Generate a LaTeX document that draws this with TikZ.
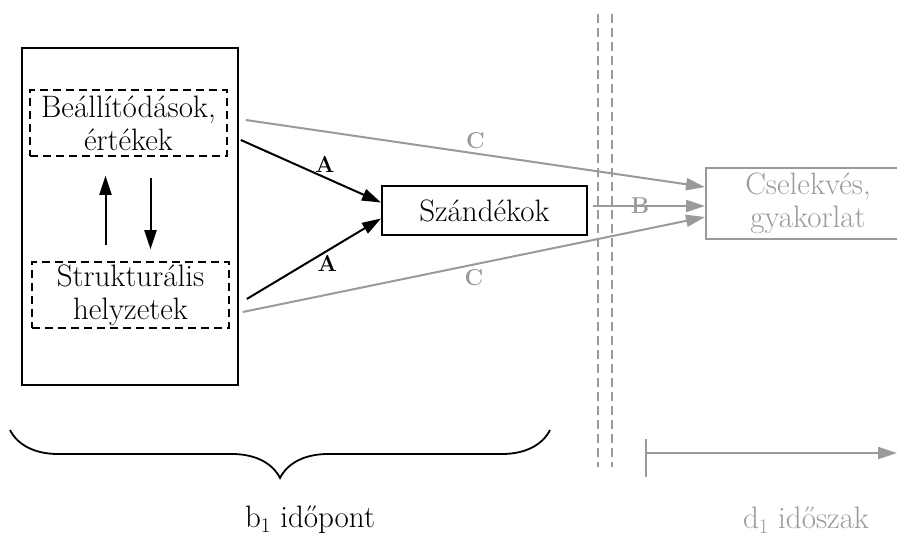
\documentclass[tikz,border=0pt]{standalone}
\usetikzlibrary{arrows.meta,decorations.pathreplacing,calc}
\definecolor{lgray}{HTML}{9A9A9A}
\begin{document}
\begin{tikzpicture}[x=1pt,y=1pt,
  every node/.style={font=\fontsize{31}{33}\selectfont, align=center, inner sep=0pt},
  box/.style={draw, line width=2pt, rectangle},
  dbox/.style={draw, line width=1.6pt, dash pattern=on 8pt off 5pt},
  blk/.style={line width=2pt, -{Triangle[length=19pt,width=12pt]}},
  gry/.style={line width=2pt, draw=lgray, -{Triangle[length=19pt,width=12pt]}},
  lab/.style={font=\fontsize{23}{26}\selectfont\bfseries},
  vdash/.style={line width=1.6pt, draw=lgray, dash pattern=on 9pt off 5pt}]
\useasboundingbox (0,0) rectangle (897,536);

% boxes
\node[box, minimum width=216pt, minimum height=337pt] (outer) at (130,319.5) {};
\node[dbox, minimum width=197pt, minimum height=66pt] (bel) at (128.5,413) {Beállítódások,\\értékek};
\node[dbox, minimum width=197pt, minimum height=66pt] (str) at (130.5,241) {Strukturális\\helyzetek};
\node[box, minimum width=205pt, minimum height=49pt] (sz) at (484.5,325.5) {Szándékok};
\node[box, draw=lgray, text=lgray, minimum width=204pt, minimum height=71pt] (cs) at (808,332.5) {Cselekvés,\\gyakorlat};

% vertical arrows between dashed boxes
\draw[blk] ([xshift=-25pt,yshift=16pt]str.north) -- ([xshift=-23pt,yshift=-19pt]bel.south);
\draw[blk] ([xshift=22pt,yshift=-21pt]bel.south) -- ([xshift=20pt,yshift=12pt]str.north);

% A arrows
\draw[blk] ([xshift=13pt,yshift=-17pt]bel.east) -- ([yshift=8pt]sz.west) node[lab, pos=0.6, above=4pt] (la1) {A};
\draw[blk] ([xshift=17pt,yshift=-4pt]str.east) -- ([yshift=-8pt]sz.west) node[lab, pos=0.6, below=4pt] (la2) {A};

% C arrows
\draw[gry] ([xshift=18pt,yshift=3pt]bel.east) -- ([yshift=16.5pt]cs.west) node[lab, text=lgray, pos=0.5, above=4pt] (lc1) {C};
\draw[gry] ([xshift=13pt,yshift=-17pt]str.east) -- ([yshift=-13.5pt]cs.west) node[lab, text=lgray, pos=0.5, below=4pt] (lc2) {C};

% B arrow
\draw[gry] ([xshift=5pt,yshift=4.5pt]sz.east) -- ([yshift=-2.5pt]cs.west) node[lab, text=lgray, pos=0.42] (lb) {B};

% vertical dashed separators
\coordinate (s1t) at (598,522);
\coordinate (s1b) at (598,69);
\coordinate (s2t) at (612,522);
\coordinate (s2b) at (612,69);
\draw[vdash] (s1t) -- (s1b);
\draw[vdash] (s2t) -- (s2b);

% brace
\coordinate (br1) at (550,106);
\coordinate (br2) at (10,106);
\draw[line width=1.8pt, decorate, decoration={brace, amplitude=48pt}] (br1) -- (br2);
\node (b1) at (310,16) {b$_1$ időpont};

% timeline
\coordinate (tt) at (646,97);
\coordinate (tb) at (646,59);
\coordinate (ts) at (646,83);
\coordinate (te) at (897,83);
\draw[line width=2pt, lgray] (tt) -- (tb);
\draw[gry] (ts) -- (te);
\node[text=lgray] (d1) at (806,16) {d$_1$ időszak};
\end{tikzpicture}
\end{document}
